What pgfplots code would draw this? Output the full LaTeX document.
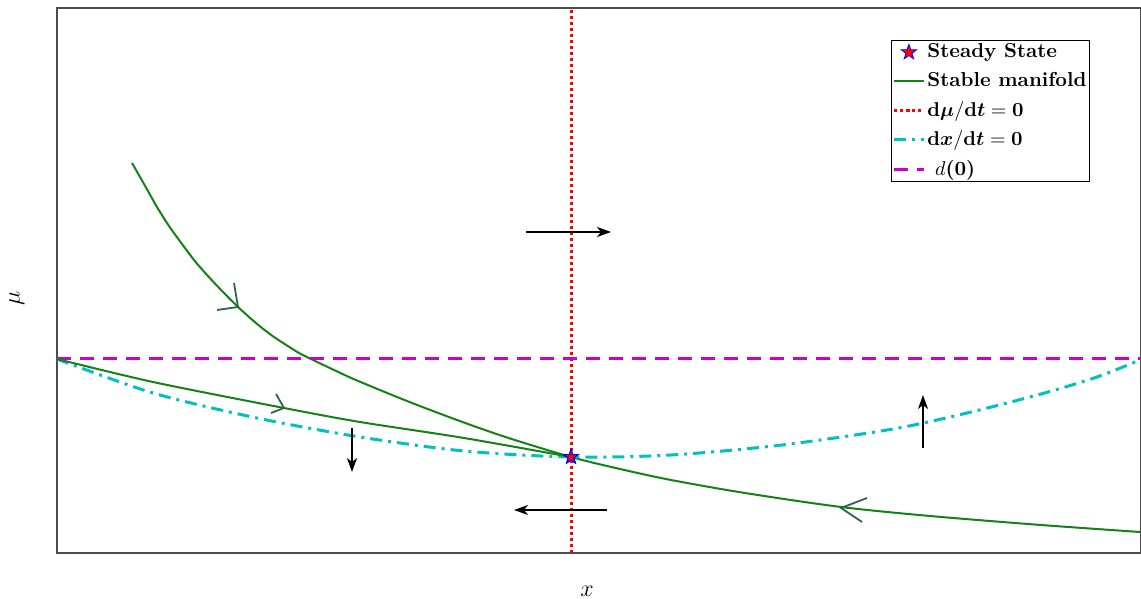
\documentclass[border=0pt]{standalone}
\usepackage{pgfplots}
\pgfplotsset{compat=1.18}
\usepackage{bm}
\usetikzlibrary{arrows.meta}
\definecolor{mgreen}{RGB}{20,130,20}
\definecolor{chev}{RGB}{45,100,75}
\definecolor{cyanc}{RGB}{0,192,192}
\definecolor{magc}{RGB}{204,0,204}
\pgfdeclareplotmark{pstar}{%
  \pgfpathmoveto{\pgfpointpolar{90}{\pgfplotmarksize}}%
  \pgfpathlineto{\pgfpointpolar{126}{0.4\pgfplotmarksize}}%
  \pgfpathlineto{\pgfpointpolar{162}{\pgfplotmarksize}}%
  \pgfpathlineto{\pgfpointpolar{198}{0.4\pgfplotmarksize}}%
  \pgfpathlineto{\pgfpointpolar{234}{\pgfplotmarksize}}%
  \pgfpathlineto{\pgfpointpolar{270}{0.4\pgfplotmarksize}}%
  \pgfpathlineto{\pgfpointpolar{306}{\pgfplotmarksize}}%
  \pgfpathlineto{\pgfpointpolar{342}{0.4\pgfplotmarksize}}%
  \pgfpathlineto{\pgfpointpolar{18}{\pgfplotmarksize}}%
  \pgfpathlineto{\pgfpointpolar{54}{0.4\pgfplotmarksize}}%
  \pgfpathclose
  \pgfusepathqfillstroke}
\begin{document}
\begin{tikzpicture}
\useasboundingbox (0,0) rectangle (570.5pt,299.5pt);
\begin{axis}[
  at={(28.5pt,23pt)}, anchor=south west,
  scale only axis, width=542pt, height=272.5pt,
  xmin=0, xmax=1084, ymin=0, ymax=545,
  xtick=\empty, ytick=\empty,
  axis line style={gray!60!black, line width=0.6pt},
  xlabel={$x$}, ylabel={$\mu$},
  label style={font=\large},
  xlabel style={at={(axis description cs:0.489,-0.0697)}, anchor=center},
  ylabel style={at={(axis description cs:-0.037,0.468)}, anchor=center},
  legend style={at={(0.7694,0.9413)}, anchor=north west, draw=black, line width=0.6pt,
    font=\fontsize{10.1}{12.5}\selectfont\bfseries, inner sep=0.5pt, row sep=3.6pt,
    nodes={inner sep=1.1pt}},
  legend image code/.code={\draw[mark repeat=2,mark phase=2] plot coordinates {(0cm,0cm) (0.26cm,0cm) (0.52cm,0cm)};},
  legend cell align=left,
]
\addplot[only marks, mark=pstar, mark size=4pt, mark options={draw=blue, fill=red, line width=0.4pt, solid}] coordinates {(514,96)};
\addlegendentry{Steady State}
\addplot[mgreen, line width=1pt, smooth] coordinates {
(75,390) (87,369) (100,346) (112,327) (125,309) (137,293) (150,278) (165,262)
(180,247) (192,236) (205,225) (217,216) (230,207.5) (242,200) (255,193.5)
(277,183) (300,172.5) (350,152) (400,133) (450,115.5) (514,96) (563,84) (614,73)
(688,60) (784,46) (873,37) (984,28) (1083,21)};
\addlegendentry{Stable manifold}
\addplot[red, line width=1.5pt, dash pattern=on 1.5pt off 1.5pt] coordinates {(514,0) (514,545)};
\addlegendentry{$\mathbf{d}\bm{\mu}/\mathbf{d}\bm{t}=\mathbf{0}$}
\addplot[cyanc, line width=1.5pt, smooth, dash pattern=on 6pt off 3pt on 1.5pt off 3pt] coordinates {
(0,194) (96,160) (200,135) (303,116) (407,102) (514,96) (614,98) (725,108)
(836,124) (910,140) (984,159) (1040,176) (1083,193)};
\addlegendentry{$\mathbf{d}\bm{x}/\mathbf{d}\bm{t}=\mathbf{0}$}
\addplot[magc, line width=1.5pt, dash pattern=on 7pt off 4.5pt] coordinates {(0,194) (1084,194)};
\addlegendentry{\ $d$(0)}
% lower-left branch of the stable manifold
\addplot[mgreen, line width=1pt, smooth, forget plot] coordinates {
(0,194) (96,171) (227,145) (303,131) (407,115) (514,96)};
% chevrons on the manifold
\addplot[chev, line width=0.9pt, forget plot] coordinates {(177,270) (181,246) (160,243)};
\addplot[chev, line width=0.9pt, forget plot] coordinates {(219,159) (227,145) (214,140)};
\addplot[chev, line width=0.9pt, forget plot] coordinates {(810,55) (784,45) (805,31)};
% direction arrows
\addplot[black, line width=0.8pt, -{Stealth[length=7pt, width=5pt, inset=2pt]}, forget plot] coordinates {(469,321) (554,321)};
\addplot[black, line width=0.8pt, -{Stealth[length=7pt, width=5pt, inset=2pt]}, forget plot] coordinates {(295,125) (295,81)};
\addplot[black, line width=0.8pt, -{Stealth[length=7pt, width=5pt, inset=2pt]}, forget plot] coordinates {(550,43) (457,43)};
\addplot[black, line width=0.8pt, -{Stealth[length=7pt, width=5pt, inset=2pt]}, forget plot] coordinates {(866,105) (866,158)};
\addplot[only marks, mark=pstar, mark size=3.5pt, mark options={draw=blue, fill=red, line width=0.4pt, solid}, forget plot] coordinates {(514,96)};
\end{axis}
\end{tikzpicture}
\end{document}
